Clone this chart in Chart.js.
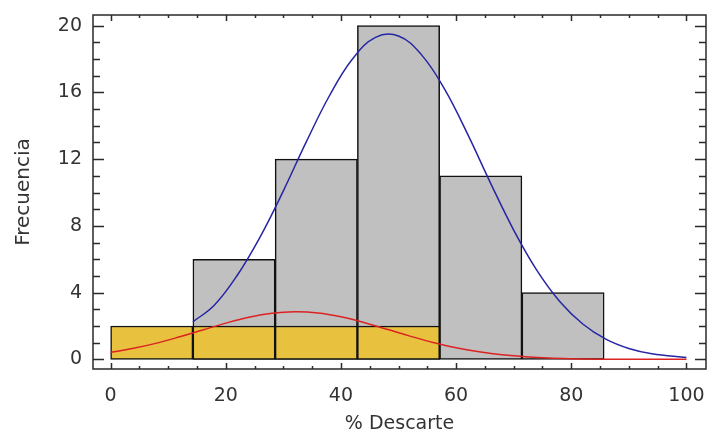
<!DOCTYPE html>
<html>
<head>
<meta charset="utf-8">
<script src="https://cdn.jsdelivr.net/npm/chart.js@4"></script>
<style>
  html, body { margin: 0; padding: 0; background: #fff; }
  #grafico { display: block; }
</style>
</head>
<body>
<canvas id="grafico" width="709" height="432"></canvas>
<script>
// histograma: limites das classes e frequencias
const limitesClasses = [0, 14.29, 28.57, 42.86, 57.14, 71.43, 85.71];
const freqCinza = [null, 6, 12, 20, 11, 4];
const freqAmarelo = [2, 2, 2, 2, null, null];

// curvas ajustadas
const curvaAzulX = [14.29, 18, 22, 26, 30, 34, 38, 42, 46, 50, 54, 58, 62, 66, 70, 74, 78, 82, 86, 90, 94, 100];
const curvaAzulY = [2.25, 3.24, 5.04, 7.36, 10.1, 13.05, 15.8, 18.0, 19.3, 19.38, 18.25, 16.2, 13.5, 10.55, 7.75, 5.35, 3.47, 2.12, 1.21, 0.65, 0.33, 0.11];
const curvaVermX = [0, 4, 8, 12, 16, 20, 24, 28, 32, 36, 40, 44, 48, 52, 56, 60, 64, 68, 72, 76, 80, 86, 100];
const curvaVermY = [0.42, 0.66, 0.97, 1.35, 1.76, 2.17, 2.52, 2.76, 2.85, 2.78, 2.55, 2.21, 1.80, 1.39, 1.01, 0.69, 0.45, 0.27, 0.16, 0.08, 0.04, 0.01, 0];

const ticksX = [0, 20, 40, 60, 80, 100];
const ticksY = [0, 4, 8, 12, 16, 20];

const fonte = { family: "'DejaVu Sans', sans-serif", size: 19 };
const corTexto = '#333';

function barras(freqs) {
    const pts = [];
    freqs.forEach((f, i) => {
        pts.push({ x: (limitesClasses[i] + limitesClasses[i + 1]) / 2, y: f });
    });
    return pts;
}

const molduraTicks = {
    id: 'molduraTicks',
    afterDraw(chart) {
        const { ctx, chartArea: a, scales: { x, y } } = chart;
        ctx.save();
        ctx.strokeStyle = '#2a2a2a';
        ctx.lineWidth = 1.5;
        ctx.strokeRect(a.left, a.top, a.right - a.left, a.bottom - a.top);
        ctx.beginPath();
        for (let v = 0; v <= 100; v += 5) {
            const px = Math.round(x.getPixelForValue(v)) + 0.5;
            const len = v % 20 === 0 ? 6 : 3;
            ctx.moveTo(px, a.bottom); ctx.lineTo(px, a.bottom - len);
            ctx.moveTo(px, a.top); ctx.lineTo(px, a.top + len);
        }
        for (let v = 0; v <= 20; v += 1) {
            const py = Math.round(y.getPixelForValue(v)) + 0.5;
            const len = v % 4 === 0 ? 11 : 7;
            ctx.moveTo(a.left, py); ctx.lineTo(a.left + len, py);
            ctx.moveTo(a.right, py); ctx.lineTo(a.right - len, py);
        }
        ctx.stroke();
        ctx.restore();
    }
};

function main() {
    const ctx = document.getElementById('grafico').getContext('2d');
    window.histograma = new Chart(ctx, {
        type: 'bar',
        data: {
            datasets: [
                {
                    type: 'line',
                    label: 'Normal',
                    data: curvaAzulX.map((x, i) => ({ x: x, y: curvaAzulY[i] })),
                    borderColor: '#2525a5',
                    borderWidth: 1.5,
                    pointRadius: 0,
                    tension: 0.4,
                    fill: false,
                    order: 0
                },
                {
                    type: 'line',
                    label: 'Normal 2',
                    data: curvaVermX.map((x, i) => ({ x: x, y: curvaVermY[i] })),
                    borderColor: '#dd2222',
                    borderWidth: 1.5,
                    pointRadius: 0,
                    tension: 0.4,
                    fill: false,
                    order: 1
                },
                {
                    label: 'Amarelo',
                    data: barras(freqAmarelo),
                    backgroundColor: '#e8c23e',
                    borderColor: '#111',
                    borderWidth: 1.5,
                    borderSkipped: false,
                    grouped: false,
                    barPercentage: 1,
                    categoryPercentage: 1,
                    order: 2
                },
                {
                    label: 'Cinza',
                    data: barras(freqCinza),
                    backgroundColor: '#c0c0c0',
                    borderColor: '#111',
                    borderWidth: 1.5,
                    borderSkipped: false,
                    grouped: false,
                    barPercentage: 1,
                    categoryPercentage: 1,
                    order: 3
                }
            ]
        },
        options: {
            animation: false,
            responsive: false,
            events: [],
            layout: { padding: { top: 15, right: 3, left: 0, bottom: 0 } },
            plugins: {
                legend: { display: false },
                tooltip: { enabled: false }
            },
            scales: {
                x: {
                    type: 'linear',
                    offset: false,
                    min: -3.06,
                    max: 103.4,
                    grid: { display: false, drawTicks: false },
                    border: { display: false },
                    afterBuildTicks: (s) => { s.ticks = ticksX.map(v => ({ value: v })); },
                    afterFit: (s) => {
                        s.height = 63;
                        s.paddingLeft = 0; s.paddingRight = 0;
                    },
                    ticks: { font: fonte, color: corTexto, padding: 16, maxRotation: 0, autoSkip: false },
                    title: {
                        display: true, text: '% Descarte', color: corTexto,
                        font: { family: fonte.family, size: 19, lineHeight: 0.8 },
                        padding: { top: 0, bottom: 0 }
                    }
                },
                y: {
                    min: -0.58,
                    max: 20.64,
                    grid: { display: false, drawTicks: false },
                    border: { display: false },
                    afterBuildTicks: (s) => { s.ticks = ticksY.map(v => ({ value: v })); },
                    afterFit: (s) => {
                        s.width = 93;
                        s.paddingTop = 0; s.paddingBottom = 0;
                    },
                    ticks: { font: fonte, color: corTexto, padding: 11 },
                    title: {
                        display: true, text: 'Frecuencia', color: corTexto,
                        font: { family: fonte.family, size: 20, lineHeight: 1 },
                        padding: { top: 14, bottom: 0 }
                    }
                }
            }
        },
        plugins: [molduraTicks]
    });
}

window.addEventListener('DOMContentLoaded', main);
</script>
</body>
</html>
